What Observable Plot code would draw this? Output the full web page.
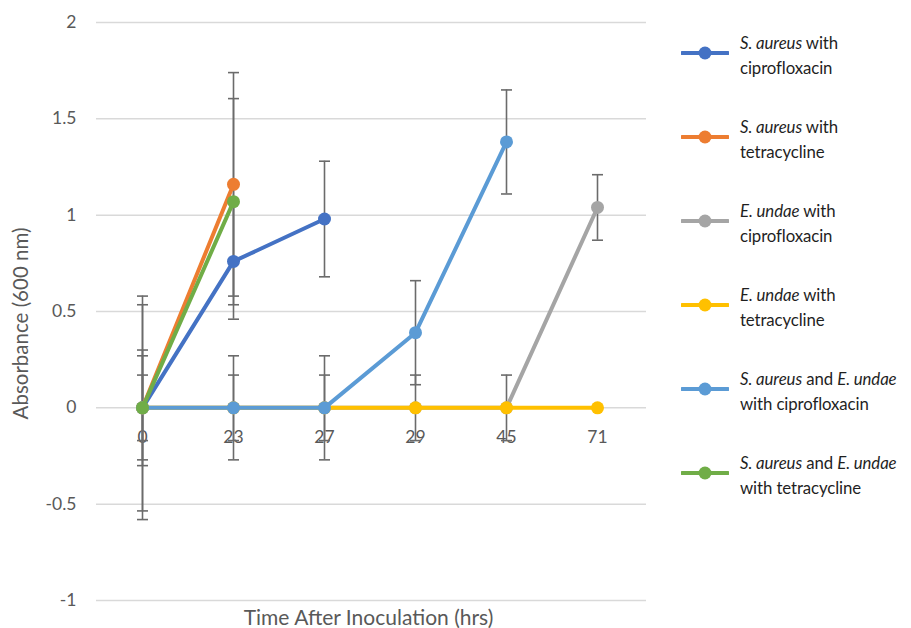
<!DOCTYPE html>
<html>
<head>
<meta charset="utf-8">
<script src="https://cdn.jsdelivr.net/npm/d3@7"></script>
<script src="https://cdn.jsdelivr.net/npm/@observablehq/plot@0.6"></script>
<style>
  html, body { margin: 0; padding: 0; background: #fff; }
  #wrap { position: relative; width: 911px; height: 628px; overflow: hidden; font-family: Lato, "Open Sans", sans-serif; }
  #legend { position: absolute; left: 0; top: 0; }
  .item { position: absolute; left: 681px; width: 230px; height: 50px; }
  .item svg { position: absolute; left: 0; top: 16px; }
  .item .lbl { position: absolute; left: 59px; top: 0; font-size: 16.8px; line-height: 25px; color: #1f1f1f; white-space: nowrap; letter-spacing: -0.1px; }
</style>
</head>
<body>
<div id="wrap"></div>
<script>
// ---- data ----
const times = ["0", "23", "27", "29", "45", "71"];
const seriesKeys = ["saCipro", "saTetra", "euCipro", "euTetra", "mixCipro", "mixTetra"];
const seriesColors = ["#4472C4", "#ED7D31", "#A5A5A5", "#FFC000", "#5B9BD5", "#70AD47"];
const seriesLabelsHtml = [
  "<i>S. aureus</i> with<br>ciprofloxacin",
  "<i>S. aureus</i> with<br>tetracycline",
  "<i>E. undae</i> with<br>ciprofloxacin",
  "<i>E. undae</i> with<br>tetracycline",
  "<i>S. aureus</i> and <i>E. undae</i><br>with ciprofloxacin",
  "<i>S. aureus</i> and <i>E. undae</i><br>with tetracycline"
];
const saCipro  = [0, 0.76, 0.98];
const saTetra  = [0, 1.16];
const euCipro  = [0, 0, 0, 0, 0, 1.04];
const euTetra  = [0, 0, 0, 0, 0, 0];
const mixCipro = [0, 0, 0, 0.39, 1.38];
const mixTetra = [0, 1.07];
// error bar half-widths (one per series)
const seriesErr = [0.30, 0.58, 0.17, 0, 0.27, 0.535];
const yTicks = [-1, -0.5, 0, 0.5, 1, 1.5, 2];
const xTitle = "Time After Inoculation (hrs)";
const yTitle = "Absorbance (600 nm)";

// ---- build table ----
const seriesValues = [saCipro, saTetra, euCipro, euTetra, mixCipro, mixTetra];
const rows = seriesValues.flatMap((vals, i) => vals.map((v, j) => ({
  series: seriesKeys[i], idx: i, time: times[j], value: v, err: seriesErr[i]
})));
const errRows = rows.filter(d => d.err > 0);

const cap = {
  draw(context, size) {
    const r = Math.sqrt(size / Math.PI);
    context.moveTo(-r, 0);
    context.lineTo(r, 0);
  }
};

const errColor = "#6b6b6b";
const seriesMarks = seriesKeys.flatMap((k, i) => {
  const data = rows.filter(d => d.idx === i);
  return [
    Plot.line(data, {x: "time", y: "value", stroke: seriesColors[i], strokeWidth: 4, strokeLinejoin: "round"}),
    Plot.dot(data, {x: "time", y: "value", fill: seriesColors[i], r: 6.5, stroke: "none"})
  ];
});

const chart = Plot.plot({
  width: 911,
  height: 628,
  marginTop: 22,
  marginBottom: 28,
  marginLeft: 96,
  marginRight: 265,
  style: {fontFamily: "Lato, 'Open Sans', sans-serif", fontSize: "17px", color: "#595959", background: "white"},
  x: {type: "point", domain: times, range: [141, 597], padding: 0, axis: null},
  y: {domain: [-1, 2], axis: null},
  marks: [
    Plot.gridY(yTicks, {stroke: "#d9d9d9", strokeOpacity: 1, strokeWidth: 1.5}),
    Plot.axisY(yTicks, {tickSize: 0, tickPadding: 20, tickFormat: d => String(d), fontSize: 17.5, fill: "#595959", label: null}),
    Plot.text(times, {x: d => d, y: () => 0, dy: 30, fontSize: 17.5, fill: "#595959"}),
    Plot.ruleX(errRows, {x: "time", y1: d => d.value - d.err, y2: d => d.value + d.err, stroke: errColor, strokeWidth: 1.6}),
    Plot.dot(errRows, {x: "time", y: d => d.value + d.err, symbol: cap, r: 5.5, stroke: errColor, strokeWidth: 1.6, fill: "none"}),
    Plot.dot(errRows, {x: "time", y: d => d.value - d.err, symbol: cap, r: 5.5, stroke: errColor, strokeWidth: 1.6, fill: "none"}),
    ...seriesMarks,
    Plot.text([xTitle], {frameAnchor: "bottom", lineAnchor: "middle", textAnchor: "middle", dx: -3, dy: 18, fontSize: 21, fill: "#595959"}),
    Plot.text([yTitle], {frameAnchor: "left", lineAnchor: "middle", textAnchor: "middle", dx: -75, dy: 12, rotate: -90, fontSize: 20.5, fill: "#595959"})
  ]
});

const wrap = document.getElementById("wrap");
wrap.appendChild(chart);

// ---- legend ----
const legend = document.createElement("div");
legend.id = "legend";
seriesKeys.forEach((k, i) => {
  const item = document.createElement("div");
  item.className = "item";
  item.style.top = (30 + 84 * i) + "px";
  item.innerHTML = `<svg width="48" height="14" viewBox="0 0 48 14"><line x1="1" y1="7" x2="47" y2="7" stroke="${seriesColors[i]}" stroke-width="4" stroke-linecap="round"/><circle cx="24" cy="7" r="6.5" fill="${seriesColors[i]}"/></svg><div class="lbl">${seriesLabelsHtml[i]}</div>`;
  legend.appendChild(item);
});
wrap.appendChild(legend);
</script>
</body>
</html>
